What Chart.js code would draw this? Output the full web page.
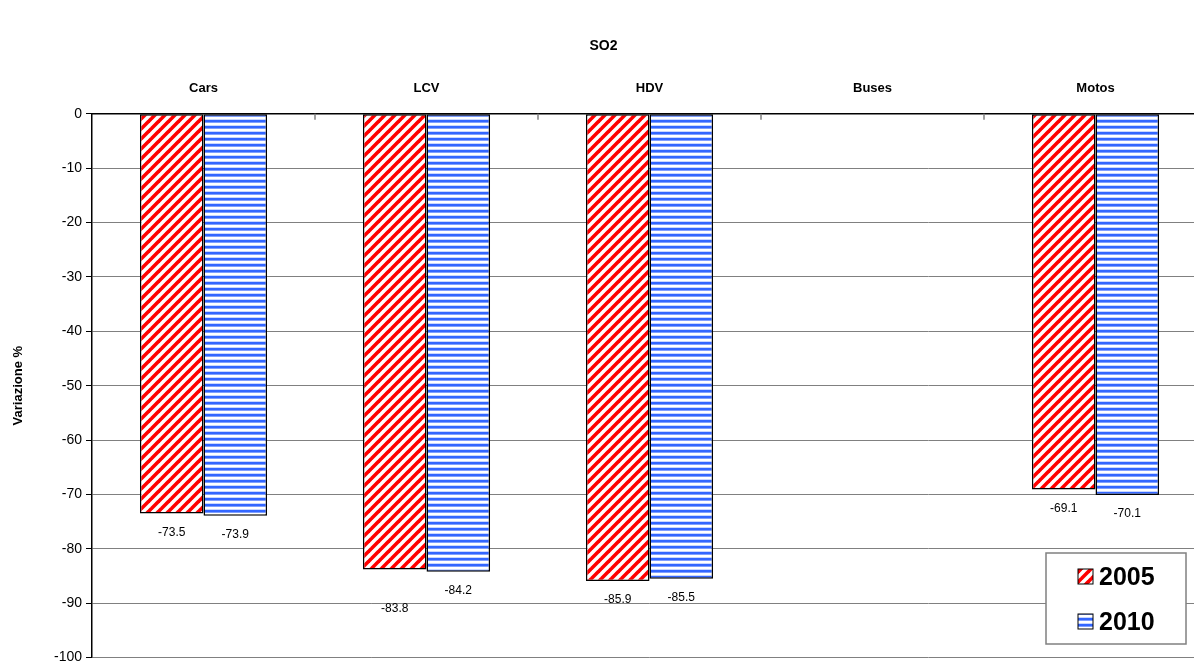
<!DOCTYPE html>
<html>
<head>
<meta charset="utf-8">
<title>SO2</title>
<script src="https://cdn.jsdelivr.net/npm/chart.js@4.4.1/dist/chart.umd.min.js"></script>
<style>
  html, body { margin: 0; padding: 0; background: #fff; overflow: hidden; }
  #wrap { width: 1210px; height: 670px; }
</style>
</head>
<body>
<div id="wrap"><canvas id="so2Chart" width="1210" height="670"></canvas></div>
<script>
// dati
var categorie = ['Cars', 'LCV', 'HDV', 'Buses', 'Motos'];
var anni = ['2005', '2010'];
var var2005 = [-73.5, -83.8, -85.9, null, -69.1];
var var2010 = [-73.9, -84.2, -85.5, null, -70.1];
var yTicks = [0, -10, -20, -30, -40, -50, -60, -70, -80, -90, -100];

var FONT = "'Liberation Sans', Arial, sans-serif";

// tratteggio rosso diagonale
function patternRosso(ctx) {
	var c = document.createElement('canvas');
	c.width = 10; c.height = 10;
	var p = c.getContext('2d');
	p.fillStyle = '#fff';
	p.fillRect(0, 0, 10, 10);
	p.strokeStyle = '#ff0000';
	p.lineWidth = 3.6;
	for (var k = -10; k <= 10; k += 10) {
		p.beginPath();
		p.moveTo(k - 1, 11);
		p.lineTo(k + 11, -1);
		p.stroke();
	}
	return ctx.createPattern(c, 'repeat');
}

// righe blu orizzontali
function patternBlu(ctx) {
	var c = document.createElement('canvas');
	c.width = 4; c.height = 6;
	var p = c.getContext('2d');
	p.fillStyle = '#fff';
	p.fillRect(0, 0, 4, 6);
	p.fillStyle = '#3366ff';
	p.fillRect(0, 0, 4, 2);
	p.fillStyle = '#7f9fff';
	p.fillRect(0, 2, 4, 1);
	p.fillStyle = '#c8d6ff';
	p.fillRect(0, 5, 4, 1);
	return ctx.createPattern(c, 'repeat');
}

var ctx = document.getElementById('so2Chart').getContext('2d');
var fill2005 = patternRosso(ctx);
var fill2010 = patternBlu(ctx);

// etichette dei valori sotto le barre (con spostamento per quelle sovrapposte)
var etichette = {
	id: 'etichette',
	afterDatasetsDraw: function(chart, args, opts) {
		var c = chart.ctx;
		c.save();
		c.font = '12px ' + FONT;
		c.fillStyle = '#000';
		c.textAlign = 'center';
		c.textBaseline = 'middle';
		chart.data.datasets.forEach(function(ds, i) {
			chart.getDatasetMeta(i).data.forEach(function(bar, j) {
				var v = ds.data[j];
				if (v === null) return;
				var extra = (opts.shift[i] && opts.shift[i][j]) || 0;
				c.fillText(v.toFixed(1), bar.x, bar.y + 19 + extra);
			});
		});
		// tacche dell'asse categorie
		var x = chart.scales.x, area = chart.chartArea;
		c.strokeStyle = '#808080';
		c.lineWidth = 1.5;
		for (var k = 1; k < categorie.length; k++) {
			var bx = (x.getPixelForTick(k - 1) + x.getPixelForTick(k)) / 2;
			c.beginPath();
			c.moveTo(bx, area.top);
			c.lineTo(bx, area.top + 6);
			c.stroke();
		}
		c.restore();
	}
};

// legenda nel riquadro in basso a destra
var legendaBox = {
	id: 'legendaBox',
	afterDraw: function(chart) {
		var c = chart.ctx;
		c.save();
		c.fillStyle = '#fff';
		c.fillRect(1046, 553, 140, 91);
		c.strokeStyle = '#808080';
		c.lineWidth = 1.5;
		c.strokeRect(1046, 553, 140, 91);
		var fills = [fill2005, fill2010];
		chart.data.datasets.forEach(function(ds, i) {
			var cy = 577 + i * 45;
			c.fillStyle = fills[i];
			c.fillRect(1078, cy - 8, 15, 15);
			c.strokeStyle = '#000';
			c.lineWidth = 1;
			c.strokeRect(1078, cy - 8, 15, 15);
			c.fillStyle = '#000';
			c.font = 'bold 25px ' + FONT;
			c.textAlign = 'left';
			c.textBaseline = 'middle';
			c.fillText(ds.label, 1099, cy + 1);
		});
		c.restore();
	}
};

var myChart = new Chart(ctx, {
	type: 'bar',
	data: {
		labels: categorie,
		datasets: [{
			label: anni[0],
			data: var2005,
			backgroundColor: fill2005,
			borderColor: '#000',
			borderWidth: 1.5,
			borderSkipped: false
		},
		{
			label: anni[1],
			data: var2010,
			backgroundColor: fill2010,
			borderColor: '#000',
			borderWidth: 1.5,
			borderSkipped: false
		}]
	},
	options: {
		responsive: false,
		animation: false,
		layout: { padding: { top: 0, right: 3, bottom: 1, left: 0 } },
		categoryPercentage: 0.57,
		barPercentage: 1.0,
		plugins: {
			legend: { display: false },
			tooltip: { enabled: false },
			title: {
				display: true,
				text: 'SO2',
				color: '#000',
				font: { family: FONT, size: 14, weight: 'bold', lineHeight: 1.2 },
				padding: { top: 38, bottom: 0 }
			},
			etichette: { shift: { 0: { 1: 20 } } }
		},
		scales: {
			x: {
				position: 'top',
				grid: { display: false, drawTicks: false },
				border: { display: true, color: '#000', width: 1.5 },
				ticks: {
					color: '#000',
					padding: 18,
					font: { family: FONT, size: 13, weight: 'bold' }
				},
				afterFit: function(s) { s.height = 59; }
			},
			y: {
				min: -100,
				max: 0,
				afterBuildTicks: function(s) {
					s.ticks = yTicks.map(function(v) { return { value: v }; });
				},
				grid: { color: '#808080', lineWidth: 1, tickLength: 6, tickColor: '#000' },
				border: { display: true, color: '#000', width: 1.5 },
				ticks: {
					color: '#000',
					padding: 4,
					font: { family: FONT, size: 14 }
				},
				title: {
					display: true,
					text: 'Variazione %',
					color: '#000',
					padding: { top: 11, bottom: 0 },
					font: { family: FONT, size: 13, weight: 'bold' }
				},
				afterFit: function(s) { s.width = 92; }
			}
		}
	},
	plugins: [etichette, legendaBox]
});
</script>
</body>
</html>
